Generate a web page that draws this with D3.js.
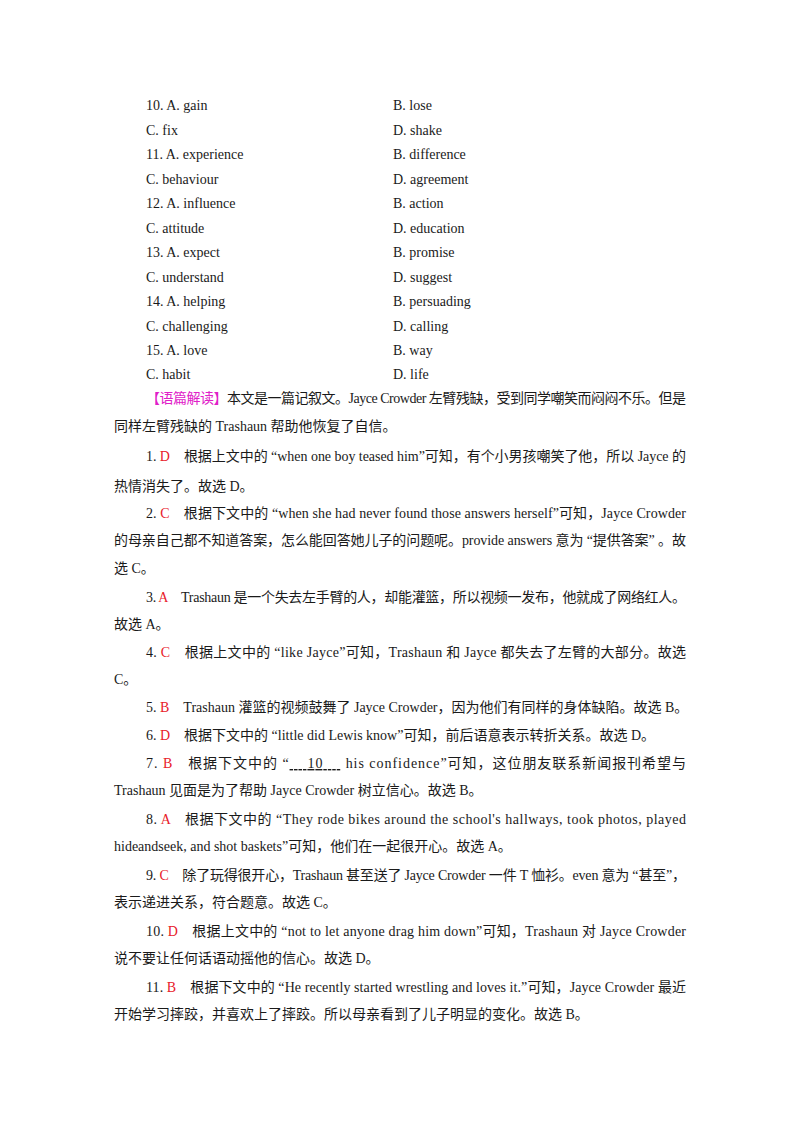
<!DOCTYPE html>
<html><head><meta charset="utf-8">
<script src="https://cdn.jsdelivr.net/npm/d3@7"></script>
<style>body{margin:0;background:#fff}</style></head>
<body><svg id="c" width="800" height="1132"></svg>
<script>
const optNums = ["10","","11","","12","","13","","14","","15",""];
const optLeft = ["A. gain","C. fix","A. experience","C. behaviour","A. influence","C. attitude","A. expect","C. understand","A. helping","C. challenging","A. love","C. habit"];
const optRight = ["B. lose","D. shake","B. difference","D. agreement","B. action","D. education","B. promise","D. suggest","B. persuading","D. calling","B. way","D. life"];
const optY = [105,130,154,179,203,228,252,277,301,326,350,374];

const R="r", M="m", K="k";
const paraY = [398,426,456,486,513,540,568,597,624,652,679,707,735,763,790,819,846,875,902,931,958,987,1014];
const paraLines = [
 [1,1,[["【语篇解读】",M],["本文是一篇记叙文。Jayce Crowder 左臂残缺，受到同学嘲笑而闷闷不乐。但是",K]]],
 [0,0,[["同样左臂残缺的 Trashaun 帮助他恢复了自信。",K]]],
 [1,1,[["1. ",K],["D",R],["　根据上文中的 “when one boy teased him”可知，有个小男孩嘲笑了他，所以 Jayce 的",K]]],
 [0,0,[["热情消失了。故选 D。",K]]],
 [1,1,[["2. ",K],["C",R],["　根据下文中的 “when she had never found those answers herself”可知，Jayce Crowder",K]]],
 [0,1,[["的母亲自己都不知道答案，怎么能回答她儿子的问题呢。provide answers 意为 “提供答案” 。故",K]]],
 [0,0,[["选 C。",K]]],
 [1,1,[["3. ",K],["A",R],["　Trashaun 是一个失去左手臂的人，却能灌篮，所以视频一发布，他就成了网络红人。",K]]],
 [0,0,[["故选 A。",K]]],
 [1,1,[["4. ",K],["C",R],["　根据上文中的 “like Jayce”可知，Trashaun 和 Jayce 都失去了左臂的大部分。故选",K]]],
 [0,0,[["C。",K]]],
 [1,0,[["5. ",K],["B",R],["　Trashaun 灌篮的视频鼓舞了 Jayce Crowder，因为他们有同样的身体缺陷。故选 B。",K]]],
 [1,0,[["6. ",K],["D",R],["　根据下文中的 “little did Lewis know”可知，前后语意表示转折关系。故选 D。",K]]],
 [1,1,[["7. ",K],["B",R],["　根据下文中的 “",K],["\u00a0\u00a0\u00a0\u00a010\u00a0\u00a0\u00a0\u00a0",K,1],[" his confidence”可知，这位朋友联系新闻报刊希望与",K]]],
 [0,0,[["Trashaun 见面是为了帮助 Jayce Crowder 树立信心。故选 B。",K]]],
 [1,1,[["8. ",K],["A",R],["　根据下文中的 “They rode bikes around the school's hallways, took photos, played",K]]],
 [0,0,[["hideandseek, and shot baskets”可知，他们在一起很开心。故选 A。",K]]],
 [1,1,[["9. ",K],["C",R],["　除了玩得很开心，Trashaun 甚至送了 Jayce Crowder 一件 T 恤衫。even 意为 “甚至”，",K]]],
 [0,0,[["表示递进关系，符合题意。故选 C。",K]]],
 [1,1,[["10. ",K],["D",R],["　根据上文中的 “not to let anyone drag him down”可知，Trashaun 对 Jayce Crowder",K]]],
 [0,0,[["说不要让任何话语动摇他的信心。故选 D。",K]]],
 [1,1,[["11. ",K],["B",R],["　根据下文中的 “He recently started wrestling and loves it.”可知，Jayce Crowder 最近",K]]],
 [0,0,[["开始学习摔跤，并喜欢上了摔跤。所以母亲看到了儿子明显的变化。故选 B。",K]]]
];
const colors = {r:"#e8202a", m:"#e020c8", k:"#1a1a1a"};

const svg = d3.select("#c");
const font = "'Liberation Serif','Noto Sans CJK SC',serif";
const xL = d3.scaleLinear().domain([0,1]).range([114,686]);
const yS = d3.scaleLinear().domain([0,1]).range([5,6]); // baseline offset from text centre
const g = svg.append("g").attr("font-family",font).attr("font-size",14).attr("fill",colors.k);

optY.forEach((y,i)=>{
  g.append("text").attr("x",146).attr("y",y+yS(0)).text((optNums[i]?optNums[i]+". ":"")+optLeft[i]);
  g.append("text").attr("x",393).attr("y",y+yS(0)).text(optRight[i]);
});

paraLines.forEach((ln,i)=>{
  const [ind,just,segs]=ln;
  const x0 = ind ? 146 : xL(0);
  const t = g.append("text").attr("x",x0).attr("y",paraY[i]+yS(0));
  segs.forEach(s=>{
    const ts=t.append("tspan").attr("fill",colors[s[1]]).text(s[0]);
    if(s[2]) ts.attr("text-decoration","underline");
  });
  if(just){ t.attr("textLength",xL(1)-x0).attr("lengthAdjust","spacing"); }
});
</script></body></html>
